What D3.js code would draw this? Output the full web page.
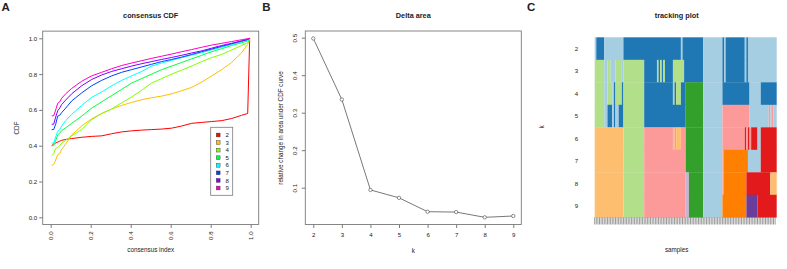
<!DOCTYPE html>
<html><head><meta charset="utf-8">
<script src="https://cdn.jsdelivr.net/npm/d3@7"></script>
<style>body{margin:0;background:#fff}svg{display:block}text{font-family:"Liberation Sans",Arial,Helvetica,sans-serif;fill:#222}</style>
</head><body><svg id="c" width="787" height="269"></svg>
<script>
// ---------- Panel A: consensus CDF ----------
const cdfX = [0.005,0.015,0.025,0.035,0.045,0.055,0.075,0.105,0.155,0.205,0.255,0.305,0.355,0.405,0.455,0.505,0.555,0.605,0.655,0.705,0.755,0.805,0.855,0.905,0.955,0.985,0.995];
const cdfK2 = [0.40,0.41,0.415,0.42,0.425,0.43,0.435,0.44,0.447,0.452,0.455,0.467,0.477,0.483,0.487,0.49,0.493,0.498,0.51,0.525,0.53,0.535,0.54,0.552,0.57,0.58,1.0];
const cdfK3 = [0.29,0.295,0.32,0.35,0.355,0.38,0.41,0.46,0.51,0.55,0.58,0.605,0.625,0.642,0.657,0.668,0.677,0.69,0.707,0.726,0.755,0.79,0.825,0.865,0.92,0.965,1.0];
const cdfK4 = [0.345,0.355,0.385,0.39,0.40,0.415,0.43,0.455,0.49,0.545,0.58,0.605,0.64,0.672,0.71,0.75,0.775,0.80,0.822,0.845,0.87,0.892,0.91,0.935,0.96,0.975,0.99];
const cdfK5 = [0.40,0.40,0.43,0.46,0.47,0.485,0.50,0.525,0.565,0.61,0.645,0.68,0.715,0.75,0.775,0.80,0.825,0.845,0.865,0.885,0.905,0.925,0.942,0.96,0.975,0.985,0.99];
const cdfK6 = [0.415,0.415,0.45,0.48,0.49,0.51,0.54,0.575,0.625,0.67,0.70,0.735,0.765,0.79,0.815,0.845,0.862,0.877,0.892,0.906,0.92,0.935,0.95,0.965,0.98,0.99,0.995];
const cdfK7 = [0.49,0.49,0.52,0.565,0.57,0.585,0.61,0.65,0.695,0.735,0.765,0.79,0.81,0.825,0.84,0.855,0.87,0.882,0.895,0.91,0.925,0.94,0.955,0.97,0.985,0.993,1.0];
const cdfK8 = [0.52,0.52,0.56,0.595,0.61,0.63,0.655,0.69,0.735,0.77,0.795,0.815,0.83,0.845,0.858,0.87,0.882,0.893,0.905,0.918,0.93,0.945,0.96,0.972,0.985,0.995,1.0];
const cdfK9 = [0.567,0.567,0.60,0.637,0.645,0.665,0.69,0.72,0.76,0.79,0.81,0.83,0.848,0.862,0.875,0.888,0.90,0.912,0.925,0.937,0.95,0.962,0.972,0.982,0.992,0.998,1.0];
const cdfLabels = ["2","3","4","5","6","7","8","9"];
const cdfColors = ["#FF0000","#FFBF00","#80FF00","#00FF40","#00FFFF","#0040FF","#8000FF","#FF00BF"];
const cdfTicks = [0,0.2,0.4,0.6,0.8,1.0];

// ---------- Panel B: Delta area ----------
const deltaK = [2,3,4,5,6,7,8,9];
const deltaVal = [0.498,0.335,0.094,0.073,0.036,0.035,0.021,0.0245];
const deltaYTicks = [0.1,0.2,0.3,0.4,0.5];

// ---------- Panel C: tracking plot (run-length: [colour index, number of samples]) ----------
const trackPalette = ["#A6CEE3","#1F78B4","#B2DF8A","#33A02C","#FB9A99","#E31A1C","#FDBF6F","#FF7F00","#CAB2D6","#6A3D9A"];
const trackK = [2,3,4,5,6,7,8,9];
const track2 = [[0,1],[1,5],[0,12],[1,36],[0,1],[1,13],[0,12],[1,1],[0,1],[1,12],[0,1],[1,1],[0,18]];
const track3 = [[2,6],[0,2],[2,2],[0,3],[2,4],[0,1],[2,13],[1,8],[2,1],[1,1],[2,1],[1,1],[2,1],[1,5],[2,7],[1,12],[0,12],[1,1],[0,1],[1,12],[0,1],[1,1],[0,18]];
const track4 = [[2,6],[0,2],[2,3],[0,1],[1,1],[2,4],[1,1],[2,13],[1,18],[2,1],[1,1],[2,3],[1,3],[3,11],[0,12],[1,17],[0,7],[1,10]];
const track5 = [[2,6],[0,2],[1,3],[0,1],[1,1],[0,2],[1,3],[2,13],[1,26],[3,11],[0,12],[4,17],[0,12],[4,1],[0,1],[4,1],[0,2]];
const track6 = [[6,18],[2,13],[4,18],[6,1],[4,1],[6,3],[4,3],[3,11],[0,12],[4,14],[5,1],[4,1],[5,1],[4,1],[5,4],[0,2],[5,10]];
const track7 = [[6,18],[2,13],[4,26],[3,11],[0,12],[4,1],[7,15],[0,8],[5,10]];
const track8 = [[6,18],[2,13],[4,26],[8,2],[3,9],[0,12],[4,1],[7,14],[5,15],[6,4]];
const track9 = [[6,18],[2,13],[4,26],[8,2],[3,9],[0,12],[7,15],[9,7],[5,12]];
const trackRows = [track2,track3,track4,track5,track6,track7,track8,track9];

const svg = d3.select("#c");
svg.append("rect").attr("width",787).attr("height",269).attr("fill","#fff");
const boxCol = "#7a7a7a";
const fTick = 6.1, fLab = 6.3, fTitle = 7.3;

function letter(t,x){ svg.append("text").attr("x",x).attr("y",10.8).attr("font-size",11.5).attr("font-weight","bold").attr("fill","#111").text(t); }
letter("A",1.5); letter("B",262.3); letter("C",527);

// ===== Panel A =====
{
  const x = d3.scaleLinear().domain([0,1]).range([50.7,250.7]);
  const y = d3.scaleLinear().domain([0,1]).range([217.3,38.3]);
  const g = svg.append("g");
  const line = d3.line().x(d=>x(d[0])).y(d=>y(d[1]));
  const series = [cdfK2,cdfK3,cdfK4,cdfK5,cdfK6,cdfK7,cdfK8,cdfK9];
  series.forEach((s,i)=>{
    g.append("path").attr("d",line(cdfX.map((v,j)=>[v,s[j]]))).attr("fill","none")
     .attr("stroke",cdfColors[i]).attr("stroke-width",1);
  });
  g.append("rect").attr("x",x(-0.04)).attr("y",y(1.04)).attr("width",x(1.04)-x(-0.04)).attr("height",y(-0.04)-y(1.04))
   .attr("fill","none").attr("stroke",boxCol).attr("stroke-width",0.9);
  const yAx = g.append("g").attr("transform",`translate(${x(-0.04)},0)`)
    .call(d3.axisLeft(y).tickValues(cdfTicks).tickFormat(d3.format(".1f")).tickSize(3.5).tickPadding(2));
  yAx.select(".domain").remove();
  yAx.selectAll("line").attr("stroke",boxCol);
  yAx.selectAll("text").attr("font-size",fTick).attr("fill","#222").attr("font-family",null);
  const xAx = g.append("g").attr("transform",`translate(0,${y(-0.04)})`)
    .call(d3.axisBottom(x).tickValues(cdfTicks).tickFormat(d3.format(".1f")).tickSize(3.5));
  xAx.select(".domain").remove();
  xAx.selectAll("line").attr("stroke",boxCol);
  xAx.selectAll("text").attr("font-size",fTick).attr("fill","#222").attr("font-family",null)
     .attr("transform","rotate(-90)").attr("text-anchor","end").attr("dy","0.35em").attr("x",-7).attr("y",0);
  svg.append("text").attr("x",150.7).attr("y",17.6).attr("text-anchor","middle").attr("font-size",fTitle).attr("font-weight","bold").text("consensus CDF");
  svg.append("text").attr("x",150.7).attr("y",252.4).attr("text-anchor","middle").attr("font-size",fLab).text("consensus index");
  svg.append("text").attr("transform","translate(18.6,128) rotate(-90)").attr("text-anchor","middle").attr("font-size",fLab).text("CDF");
  // legend
  const lg = svg.append("g");
  lg.append("rect").attr("x",210.7).attr("y",127.3).attr("width",22).attr("height",68).attr("fill","#fff").attr("stroke",boxCol).attr("stroke-width",0.8);
  const ly = d3.scalePoint().domain(cdfLabels).range([135,188]);
  cdfLabels.forEach((l,i)=>{
    lg.append("rect").attr("x",216.3).attr("y",ly(l)-1.9).attr("width",3.8).attr("height",3.8).attr("fill",cdfColors[i]).attr("stroke","#333").attr("stroke-width",0.4);
    lg.append("text").attr("x",225.5).attr("y",ly(l)).attr("dy","0.35em").attr("font-size",fTick).text(l);
  });
}

// ===== Panel B =====
{
  const x = d3.scaleLinear().domain([2,9]).range([313.3,513.3]);
  const y = d3.scaleLinear().domain([0.1,0.5]).range([187.7,37.7]);
  const g = svg.append("g");
  const pts = deltaK.map((k,i)=>[k,deltaVal[i]]);
  g.append("path").attr("d",d3.line().x(d=>x(d[0])).y(d=>y(d[1]))(pts)).attr("fill","none").attr("stroke","#555").attr("stroke-width",0.8);
  g.selectAll("circle").data(pts).join("circle").attr("cx",d=>x(d[0])).attr("cy",d=>y(d[1])).attr("r",1.7)
   .attr("fill","#fff").attr("stroke","#444").attr("stroke-width",0.6);
  const x0 = x(2 - 7*0.04), x1 = x(9 + 7*0.04);
  g.append("rect").attr("x",x0).attr("y",31).attr("width",x1-x0).attr("height",193.5).attr("fill","none").attr("stroke",boxCol).attr("stroke-width",0.9);
  const yAx = g.append("g").attr("transform",`translate(${x0},0)`)
    .call(d3.axisLeft(y).tickValues(deltaYTicks).tickFormat(d3.format(".1f")).tickSize(3.5));
  yAx.select(".domain").remove();
  yAx.selectAll("line").attr("stroke",boxCol);
  yAx.selectAll("text").attr("font-size",fTick).attr("fill","#222").attr("font-family",null)
     .attr("transform","rotate(-90)").attr("text-anchor","middle").attr("x",0).attr("y",-8.6).attr("dy",0);
  const xAx = g.append("g").attr("transform",`translate(0,224.5)`)
    .call(d3.axisBottom(x).tickValues(deltaK).tickFormat(d3.format("d")).tickSize(3.5).tickPadding(4.5));
  xAx.select(".domain").remove();
  xAx.selectAll("line").attr("stroke",boxCol);
  xAx.selectAll("text").attr("font-size",fTick).attr("fill","#222").attr("font-family",null);
  svg.append("text").attr("x",413.3).attr("y",17.6).attr("text-anchor","middle").attr("font-size",fTitle).attr("font-weight","bold").text("Delta area");
  svg.append("text").attr("x",413.3).attr("y",253).attr("text-anchor","middle").attr("font-size",fLab).text("k");
  svg.append("text").attr("transform","translate(282.8,128) rotate(-90)").attr("text-anchor","middle").attr("font-size",fLab).text("relative change in area under CDF curve");
}

// ===== Panel C =====
{
  const rows = trackRows.map(r=>{ const out=[]; r.forEach(([c,n])=>{ for(let i=0;i<n;i++) out.push(c); }); return out; });
  const n = rows[0].length;
  const x = d3.scaleLinear().domain([0,n]).range([594.7,776.7]);
  const y = d3.scaleBand().domain(trackK).range([37.3,217.3]);
  const g = svg.append("g");
  rows.forEach((r,ri)=>{
    // merge runs for drawing
    let start=0;
    for(let i=1;i<=n;i++){
      if(i===n || r[i]!==r[start]){
        g.append("rect").attr("x",x(start)).attr("y",y(trackK[ri])).attr("width",x(i)-x(start)).attr("height",y.bandwidth()+0.3)
         .attr("fill",trackPalette[r[start]]);
        start=i;
      }
    }
  });
  g.selectAll("line.tk").data(d3.range(n)).join("line").attr("class","tk")
   .attr("x1",d=>x(d)).attr("x2",d=>x(d)).attr("y1",217.3).attr("y2",224.5).attr("stroke","#555").attr("stroke-width",0.6);
  trackK.forEach(k=>{
    svg.append("text").attr("x",576.5).attr("y",y(k)+y.bandwidth()/2).attr("dy","0.35em").attr("text-anchor","middle").attr("font-size",fTick).text(k);
  });
  svg.append("text").attr("x",676.7).attr("y",17.6).attr("text-anchor","middle").attr("font-size",fTitle).attr("font-weight","bold").text("tracking plot");
  svg.append("text").attr("x",676.7).attr("y",252.3).attr("text-anchor","middle").attr("font-size",fLab).text("samples");
  svg.append("text").attr("transform","translate(544,127) rotate(-90)").attr("text-anchor","middle").attr("font-size",fLab).text("k");
}
</script></body></html>
